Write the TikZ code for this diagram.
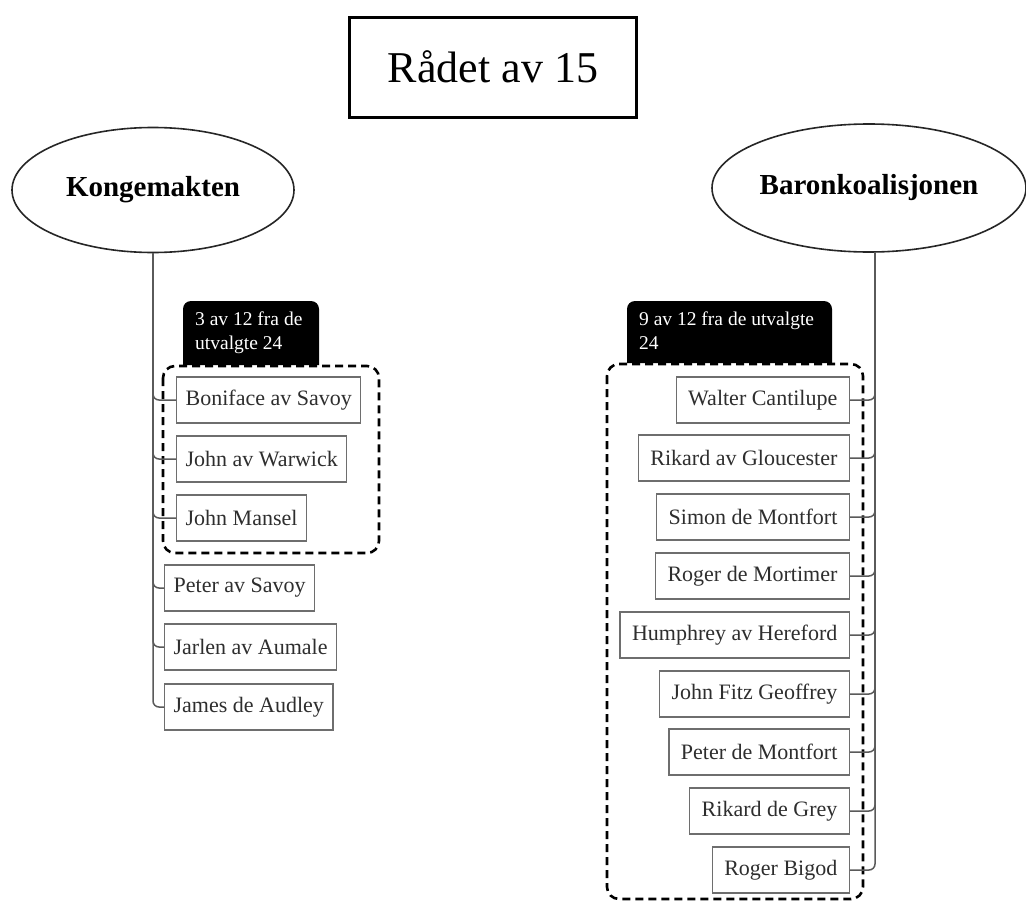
\documentclass[tikz,border=0pt]{standalone}
\usepackage{fontspec}
\setmainfont{Liberation Serif}
\usetikzlibrary{shapes.geometric}
\definecolor{boxline}{HTML}{6E6E6E}
\definecolor{boxtext}{HTML}{2E2E2E}
\definecolor{connline}{HTML}{5A5A5A}
\tikzset{
  member/.style={draw=boxline, line width=1.3pt, text=boxtext, inner xsep=9pt,
    minimum height=46pt, font=\fontsize{22}{26}\selectfont},
  party/.style={ellipse, draw=black!85, line width=1.6pt, inner sep=0pt,
    font=\fontsize{29}{34}\selectfont\bfseries},
  conn/.style={draw=connline, line width=1.5pt, rounded corners=6pt},
  groupbox/.style={draw=black, line width=2.6pt, dash pattern=on 8pt off 5pt, rounded corners=12pt},
  tabtext/.style={text=white, inner sep=0pt, anchor=north west, align=left,
    font=\fontsize{19.5}{24}\selectfont},
}
\begin{document}
\begin{tikzpicture}[x=1pt,y=-1pt]
\useasboundingbox (0,0) rectangle (1026,902);
\fill[white] (0,0) rectangle (1026,902);

% title
\node[draw=black, line width=3pt, minimum width=287pt, minimum height=100pt,
  font=\fontsize{44}{50}\selectfont] (title) at (493,67) {Rådet av 15};

% parties
\node[party, minimum width=282pt, minimum height=125pt] (king) at (153,190) {Kongemakten};
\node[party, minimum width=314pt, minimum height=128pt] (baron) at (869,188) {Baronkoalisjonen};
\coordinate (bs) at (875,252);

% group boxes and tabs
\draw[groupbox] (163,366) rectangle (379,553);
\fill[black] (183,365) [rounded corners=8pt] -- (183,301) -- (319,301) [sharp corners] -- (319,365) -- cycle;
\node[tabtext] (ltab) at (195,312) {3 av 12 fra de\\utvalgte 24};

\draw[groupbox] (607,364) rectangle (863,899);
\fill[black] (627,363) [rounded corners=8pt] -- (627,301) -- (832,301) [sharp corners] -- (832,363) -- cycle;
\node[tabtext] (rtab) at (639,312) {9 av 12 fra de utvalgte\\24};

% left members
\node[member, anchor=west] (l1) at (176,400) {Boniface av Savoy};
\node[member, anchor=west] (l2) at (176,459) {John av Warwick};
\node[member, anchor=west] (l3) at (176,518) {John Mansel};
\node[member, anchor=west] (l4) at (164,588) {Peter av Savoy};
\node[member, anchor=west] (l5) at (164,647) {Jarlen av Aumale};
\node[member, anchor=west] (l6) at (164,707) {James de Audley};

% right members
\node[member, anchor=east, inner xsep=12pt] (r1) at (850,400) {Walter Cantilupe};
\node[member, anchor=east, inner xsep=12pt] (r2) at (850,458) {Rikard av Gloucester};
\node[member, anchor=east, inner xsep=12pt] (r3) at (850,517) {Simon de Montfort};
\node[member, anchor=east, inner xsep=12pt] (r4) at (850,576) {Roger de Mortimer};
\node[member, anchor=east, inner xsep=12pt] (r5) at (850,635) {Humphrey av Hereford};
\node[member, anchor=east, inner xsep=12pt] (r6) at (850,694) {John Fitz Geoffrey};
\node[member, anchor=east, inner xsep=12pt] (r7) at (850,752) {Peter de Montfort};
\node[member, anchor=east, inner xsep=12pt] (r8) at (850,811) {Rikard de Grey};
\node[member, anchor=east, inner xsep=12pt] (r9) at (850,870) {Roger Bigod};

% connectors
\foreach \n in {l1,l2,l3,l4,l5,l6} \draw[conn] (king.south) |- (\n.west);
\foreach \n in {r1,r2,r3,r4,r5,r6,r7,r8,r9} \draw[conn] (bs) |- (\n.east);
\end{tikzpicture}
\end{document}
